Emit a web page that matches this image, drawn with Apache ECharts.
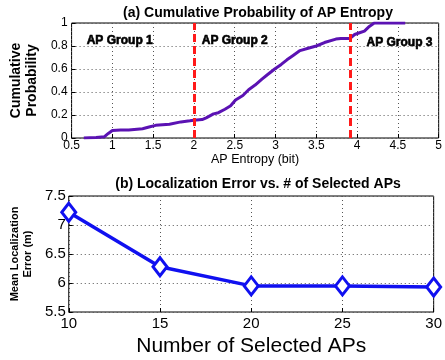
<!DOCTYPE html>
<html><head><meta charset="utf-8">
<script src="https://cdn.jsdelivr.net/npm/echarts@6/dist/echarts.min.js"></script>
<style>html,body{margin:0;padding:0;background:#fff}#c{width:445px;height:360px}</style>
</head><body><div id="c"></div>
<script>
// (a) CDF of AP entropy
const cdfX = [0.65,0.8,0.9,0.95,1.0,1.1,1.2,1.37,1.45,1.53,1.7,1.84,1.95,2.0,2.1,2.15,2.24,2.3,2.38,2.45,2.51,2.6,2.67,2.75,2.83,2.9,2.99,3.07,3.14,3.22,3.3,3.4,3.5,3.6,3.74,3.8,3.91,3.97,4.03,4.09,4.15,4.21,4.3,4.45,4.59];
const cdfY = [0.0,0.005,0.01,0.04,0.065,0.07,0.07,0.08,0.095,0.11,0.12,0.14,0.15,0.155,0.16,0.175,0.21,0.22,0.25,0.28,0.33,0.37,0.42,0.46,0.51,0.55,0.6,0.64,0.68,0.72,0.76,0.78,0.8,0.83,0.86,0.865,0.865,0.9,0.915,0.93,0.97,1.0,1.0,1.0,1.0];
const groupBoundaries = [2.0, 3.92];
const groupNames = ['AP Group 1','AP Group 2','AP Group 3'];
const groupLabelX = [1.09, 2.5, 4.52];
const groupLabelY = [0.85, 0.85, 0.835];
const entropyTicks = {min:0.5, max:5, step:0.5};
const probTicks = {min:0, max:1, step:0.2};
// (b) localization error
const numAPs = [10, 15, 20, 25, 30];
const meanError = [7.22, 6.28, 5.95, 5.95, 5.93];
const apTicks = {min:10, max:30, step:5};
const errTicks = {min:5.5, max:7.5, step:0.5};

const chart = echarts.init(document.getElementById('c'), null, {renderer:'canvas'});
const FONT = 'Liberation Sans, Arial, Helvetica, sans-serif';
const gridLine = {show:true, lineStyle:{type:[1,3], color:'#555', width:1}};
const axisCommon = {
  axisLine:{show:false}, axisTick:{show:true, inside:true, length:4, lineStyle:{color:'#000'}},
  splitLine:gridLine
};
const option = {
  animation:false,
  title:[
    {text:'(a) Cumulative Probability of AP Entropy', left:253, top:1, textAlign:'center',
     textStyle:{fontFamily:FONT, fontSize:14, fontWeight:'bold', color:'#000'}},
    {text:'(b) Localization Error vs. # of Selected APs', left:253, top:172, textAlign:'center',
     textStyle:{fontFamily:FONT, fontSize:14, fontWeight:'bold', color:'#000'}}
  ],
  grid:[
    {left:63, right:2, top:23, height:115, show:true, borderColor:'#000', borderWidth:1, backgroundColor:'#fff'},
    {left:64, right:3, top:196, height:116, show:true, borderColor:'#000', borderWidth:1, backgroundColor:'#fff'}
  ],
  xAxis:[
    Object.assign({type:'value', gridIndex:0, min:entropyTicks.min, max:entropyTicks.max, interval:entropyTicks.step,
      name:'AP Entropy (bit)', nameLocation:'middle', nameGap:15,
      nameTextStyle:{fontFamily:FONT, fontSize:12.5, color:'#000'},
      axisLabel:{fontFamily:FONT, fontSize:12, color:'#000', margin:2}}, axisCommon),
    Object.assign({type:'value', gridIndex:1, min:apTicks.min, max:apTicks.max, interval:apTicks.step,
      name:'Number of Selected APs', nameLocation:'middle', nameGap:24,
      nameTextStyle:{fontFamily:FONT, fontSize:21, color:'#000'},
      axisLabel:{fontFamily:FONT, fontSize:15, color:'#000', margin:4}}, axisCommon)
  ],
  yAxis:[
    Object.assign({type:'value', gridIndex:0, min:probTicks.min, max:probTicks.max, interval:probTicks.step,
      name:'Cumulative\nProbability', nameLocation:'middle', nameGap:30,
      nameTextStyle:{fontFamily:FONT, fontSize:14, fontWeight:'bold', color:'#000', lineHeight:16},
      axisLabel:{fontFamily:FONT, fontSize:12, color:'#000', margin:4}}, axisCommon),
    Object.assign({type:'value', gridIndex:1, min:errTicks.min, max:errTicks.max, interval:errTicks.step,
      name:'Mean Localization\nError (m)', nameLocation:'middle', nameGap:34,
      nameTextStyle:{fontFamily:FONT, fontSize:11, fontWeight:'bold', color:'#000', lineHeight:13},
      axisLabel:{fontFamily:FONT, fontSize:15, color:'#000', margin:3}}, axisCommon)
  ],
  series:[
    {type:'line', xAxisIndex:0, yAxisIndex:0, data:cdfX.map((x,i)=>[x,cdfY[i]]),
     showSymbol:false, lineStyle:{color:'#5b12b3', width:3}, z:3,
     markLine:{silent:true, symbol:'none', label:{show:false}, z:4,
       lineStyle:{color:'#ff1a1a', width:3, type:[8,4]},
       data:groupBoundaries.map(v=>({xAxis:v}))}},
    {type:'line', xAxisIndex:0, yAxisIndex:0, silent:true, z:5,
     lineStyle:{width:0, opacity:0}, symbol:'circle', symbolSize:1, showAllSymbol:true,
     itemStyle:{color:'rgba(0,0,0,0)', opacity:1},
     data:groupNames.map((n,i)=>({name:n, value:[groupLabelX[i], groupLabelY[i]]})),
     label:{show:true, position:'top', distance:-7, formatter:p=>p.name,
       fontFamily:FONT, fontSize:12, fontWeight:'bold', color:'#000000', opacity:1,
       textBorderColor:'#000000', textBorderWidth:0.6}},
    {type:'line', xAxisIndex:1, yAxisIndex:1, data:numAPs.map((x,i)=>[x,meanError[i]]),
     symbol:'diamond', symbolSize:[14,18], showAllSymbol:true,
     lineStyle:{color:'#1010f0', width:3.5},
     itemStyle:{color:'#ffffff', borderColor:'#1010f0', borderWidth:3}, clip:false}
  ]
};
chart.setOption(option);
</script></body></html>
